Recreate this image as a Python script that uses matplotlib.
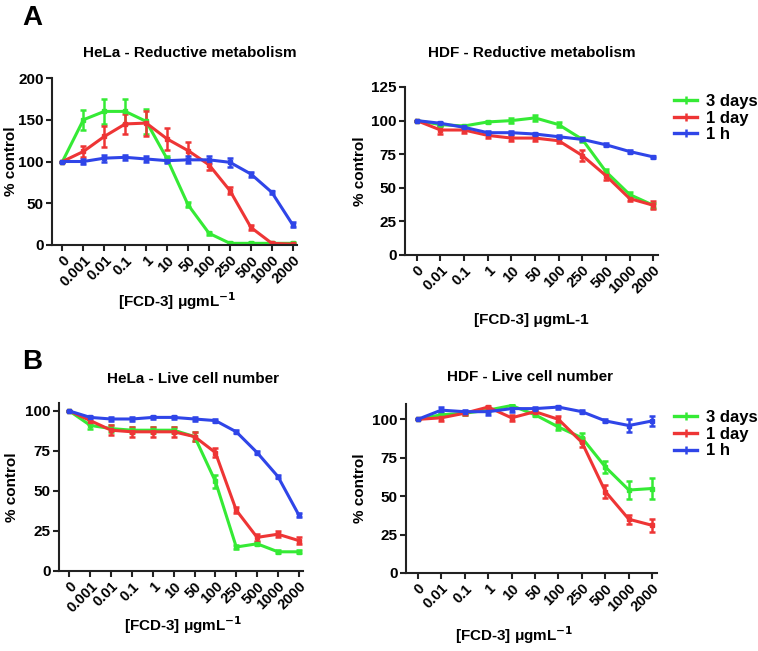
import matplotlib
matplotlib.use("Agg")
import matplotlib.pyplot as plt
from matplotlib.lines import Line2D

plt.rcParams["font.family"] = ["Liberation Sans", "DejaVu Sans"]
plt.rcParams["font.weight"] = "bold"
plt.rcParams["mathtext.default"] = "bf"

GREEN = "#35ea35"
RED = "#ee3535"
BLUE = "#2f45e8"

labels_hela = ["0", "0.001", "0.01", "0.1", "1", "10", "50", "100", "250", "500", "1000", "2000"]
labels_hdf = ["0", "0.01", "0.1", "1", "10", "50", "100", "250", "500", "1000", "2000"]

# A - HeLa reductive metabolism
a_hela_3d = [100, 150, 160, 160, 148, 103, 48, 14, 2, 2, 2, 2]
a_hela_3d_err = [0, 12, 15, 15, 15, 3, 3, 2, 1, 1, 1, 1]
a_hela_1d = [100, 112, 130, 145, 146, 127, 113, 96, 65, 21, 2, 1]
a_hela_1d_err = [0, 7, 13, 12, 15, 13, 10, 6, 4, 3, 1, 1]
a_hela_1h = [100, 100, 104, 105, 103, 101, 102, 102, 99, 85, 63, 24]
a_hela_1h_err = [0, 3, 4, 3, 3, 3, 4, 4, 5, 3, 2, 3]

# A - HDF reductive metabolism
a_hdf_3d = [100, 97, 96, 99, 100, 102, 97, 86, 62, 45, 37]
a_hdf_3d_err = [0, 1, 1, 1, 2, 2, 2, 2, 2, 2, 2]
a_hdf_1d = [100, 93, 93, 89, 87, 87, 85, 74, 59, 42, 37]
a_hdf_1d_err = [0, 3, 2, 2, 2, 2, 2, 4, 3, 2, 3]
a_hdf_1h = [100, 98, 95, 91, 91, 90, 88, 86, 82, 77, 73]
a_hdf_1h_err = [0, 1, 1, 1, 1, 1, 1, 1, 1, 1, 1]

# B - HeLa live cell number
b_hela_3d = [100, 91, 89, 88, 88, 88, 84, 56, 15, 17, 12, 12]
b_hela_3d_err = [0, 2, 2, 2, 2, 2, 3, 4, 1, 1, 1, 1]
b_hela_1d = [100, 94, 88, 87, 87, 87, 84, 74, 38, 21, 23, 19]
b_hela_1d_err = [0, 2, 3, 3, 3, 3, 3, 3, 2, 2, 2, 2]
b_hela_1h = [100, 96, 95, 95, 96, 96, 95, 94, 87, 74, 59, 35]
b_hela_1h_err = [0, 1, 1, 1, 1, 1, 1, 1, 1, 1, 1, 1]

# B - HDF live cell number
b_hdf_3d = [100, 103, 104, 106, 109, 103, 95, 88, 69, 54, 55]
b_hdf_3d_err = [0, 1, 1, 1, 1, 1, 2, 3, 4, 6, 7]
b_hdf_1d = [100, 101, 104, 108, 101, 105, 100, 85, 53, 35, 31]
b_hdf_1d_err = [0, 2, 1, 1, 2, 1, 2, 3, 4, 3, 4]
b_hdf_1h = [100, 106, 105, 105, 107, 107, 108, 105, 99, 96, 99]
b_hdf_1h_err = [0, 2, 1, 2, 2, 1, 1, 1, 1, 4, 3]

series_names = ["3 days", "1 day", "1 h"]
colors = [GREEN, RED, BLUE]

W, H = 758, 651
fig = plt.figure(figsize=(W / 100, H / 100), dpi=100)


def fx(px):
    return px / W


def fy(py):
    return 1 - py / H


def panel(rect, labels, series, errors, ylim, yticks, title, title_xy,
          xlabel, xlabel_xy, ylabel_x):
    ax = fig.add_axes(rect)
    x = list(range(len(labels)))
    for vals, errs, c, name in zip(series, errors, colors, series_names):
        ax.errorbar(x, vals, yerr=errs, color=c, lw=2.2, marker="s", ms=3,
                    capsize=2.5, elinewidth=1.8, capthick=1.8, label=name)
    ax.set_xlim(-0.5, len(labels) - 0.8)
    ax.set_ylim(*ylim)
    ax.set_yticks(yticks)
    ax.set_xticks(x)
    ax.set_xticklabels(labels, rotation=45, ha="right", rotation_mode="anchor",
                       fontsize=10.5, fontweight="bold")
    for t in ax.get_yticklabels():
        t.set_fontsize(11)
        t.set_fontweight("bold")
    for s in ["top", "right"]:
        ax.spines[s].set_visible(False)
    for s in ["left", "bottom"]:
        ax.spines[s].set_linewidth(1.5)
        ax.spines[s].set_color("#222222")
    ax.tick_params(width=1.5, length=4, pad=2, color="#222222")
    ax.set_ylabel("% control", fontsize=11, fontweight="bold")
    ax.yaxis.set_label_coords(ylabel_x, 0.5)
    fig.text(fx(title_xy[0]), fy(title_xy[1]), title, ha="center", va="center",
             fontsize=11, fontweight="bold")
    fig.text(fx(xlabel_xy[0]), fy(xlabel_xy[1]), xlabel, ha="center", va="center",
             fontsize=11, fontweight="bold")
    return ax


def add_legend(ax, left_px, top_px):
    handles = [Line2D([], [], color=c, lw=2.4, marker="|", ms=6, mew=1.8)
               for c in colors]
    ax.legend(handles, series_names, loc="upper left",
              bbox_to_anchor=(fx(left_px), fy(top_px)),
              bbox_transform=fig.transFigure, frameon=False,
              prop={"size": 12, "weight": "bold"}, handlelength=1.4,
              labelspacing=0.1, handletextpad=0.5, borderpad=0, borderaxespad=0)


panel([fx(52), fy(245), fx(245), 167 / H], labels_hela,
      [a_hela_3d, a_hela_1d, a_hela_1h], [a_hela_3d_err, a_hela_1d_err, a_hela_1h_err],
      (0, 200), [0, 50, 100, 150, 200], "HeLa - Reductive metabolism", (190, 53),
      r"[FCD-3] μgmL$^{-1}$", (177, 301), -0.14)

ax2 = panel([fx(405), fy(255), fx(253), 168 / H], labels_hdf,
            [a_hdf_3d, a_hdf_1d, a_hdf_1h], [a_hdf_3d_err, a_hdf_1d_err, a_hdf_1h_err],
            (0, 125), [0, 25, 50, 75, 100, 125], "HDF - Reductive metabolism", (532, 53),
            "[FCD-3] μgmL-1", (531, 320), -0.15)
add_legend(ax2, 674, 94)

panel([fx(59), fy(571), fx(244), 168 / H], labels_hela,
      [b_hela_3d, b_hela_1d, b_hela_1h], [b_hela_3d_err, b_hela_1d_err, b_hela_1h_err],
      (0, 105), [0, 25, 50, 75, 100], "HeLa - Live cell number", (193, 379),
      r"[FCD-3] μgmL$^{-1}$", (183, 625), -0.165)

ax4 = panel([fx(406), fy(573), fx(251), 169 / H], labels_hdf,
            [b_hdf_3d, b_hdf_1d, b_hdf_1h], [b_hdf_3d_err, b_hdf_1d_err, b_hdf_1h_err],
            (0, 110), [0, 25, 50, 75, 100], "HDF - Live cell number", (530, 377),
            r"[FCD-3] μgmL$^{-1}$", (514, 635), -0.155)
add_legend(ax4, 674, 410)

fig.text(fx(22), fy(18), "A", fontsize=20, fontweight="bold", va="center")
fig.text(fx(22), fy(362), "B", fontsize=20, fontweight="bold", va="center")

fig.savefig("out.png", dpi=100)
